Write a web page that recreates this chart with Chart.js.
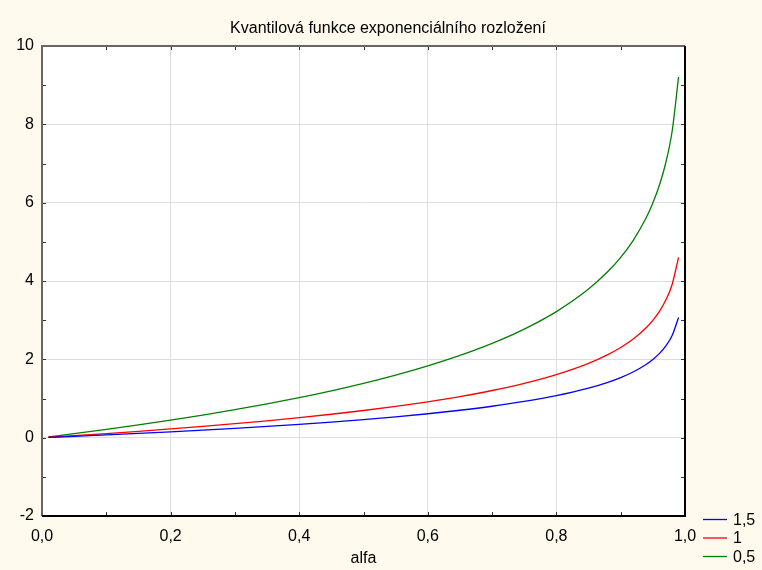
<!DOCTYPE html>
<html>
<head>
<meta charset="utf-8">
<script src="https://cdn.jsdelivr.net/npm/chart.js@4.4.1/dist/chart.umd.min.js"></script>
<style>
    html, body { margin: 0; padding: 0; background: #fff9ee; }
    #wrap { width: 762px; height: 570px; position: relative; }
</style>
</head>
<body>
<div id="wrap"><canvas id="quantile"></canvas></div>
<script>
/*
        Quantile function of the exponential distribution,
    three rates, values.
*/

const chartTitle = "Kvantilová funkce exponenciálního rozložení";
const alfa = [0.01, 0.05, 0.1, 0.15, 0.2, 0.25, 0.3, 0.35, 0.4, 0.45, 0.5, 0.55, 0.6, 0.65,
    0.7, 0.75, 0.8, 0.85, 0.88, 0.9, 0.92, 0.94, 0.95, 0.96, 0.97, 0.98, 0.99];
const seriesLabels = ["1,5", "1", "0,5"];
const seriesColors = ["#0000ff", "#ff0000", "#008000"];
const rate15 = [0.0067, 0.0342, 0.0702, 0.1083, 0.1488, 0.1918, 0.2378, 0.2872, 0.3406, 0.3986,
    0.4621, 0.5323, 0.6109, 0.6999, 0.8026, 0.9242, 1.0730, 1.2647, 1.4135, 1.5351, 1.6838,
    1.8756, 1.9972, 2.1459, 2.3377, 2.6080, 3.0701];
const rate1 = [0.0101, 0.0513, 0.1054, 0.1625, 0.2231, 0.2877, 0.3567, 0.4308, 0.5108, 0.5978,
    0.6931, 0.7985, 0.9163, 1.0498, 1.2040, 1.3863, 1.6094, 1.8971, 2.1203, 2.3026, 2.5257,
    2.8134, 2.9957, 3.2189, 3.5066, 3.9120, 4.6052];
const rate05 = [0.0201, 0.1026, 0.2107, 0.3250, 0.4463, 0.5754, 0.7133, 0.8616, 1.0217, 1.1957,
    1.3863, 1.5970, 1.8326, 2.0996, 2.4079, 2.7726, 3.2189, 3.7942, 4.2405, 4.6052, 5.0515,
    5.6268, 5.9915, 6.4378, 7.0131, 7.8240, 9.2103];
const seriesValues = [rate15, rate1, rate05];

const xTicks = [0, 0.1, 0.2, 0.3, 0.4, 0.5, 0.6, 0.7, 0.8, 0.9, 1.0];
const yTicks = [-2, -1, 0, 1, 2, 3, 4, 5, 6, 7, 8, 9, 10];

const fontFamily = "'Liberation Sans', Arial, sans-serif";

// Frame, inner tick marks, white plot area, title and the small legend
const frame = {
    id: "frame",
    beforeDraw(chart) {
        const { ctx, chartArea: a } = chart;
        ctx.save();
        ctx.fillStyle = "#fff9ee";
        ctx.fillRect(0, 0, chart.width, chart.height);
        ctx.fillStyle = "#ffffff";
        ctx.fillRect(a.left, a.top, a.right - a.left, a.bottom - a.top);
        ctx.restore();
    },
    afterDatasetsDraw(chart) {
        const { ctx, chartArea: a, scales } = chart;
        ctx.save();

        // tick marks inside the box
        ctx.strokeStyle = "#333333";
        ctx.lineWidth = 1;
        ctx.beginPath();
        xTicks.forEach((v) => {
            const px = Math.round(scales.x.getPixelForValue(v)) + 0.5;
            ctx.moveTo(px, a.bottom);
            ctx.lineTo(px, a.bottom - 4);
            ctx.moveTo(px, a.top);
            ctx.lineTo(px, a.top + 4);
        });
        yTicks.forEach((v) => {
            const py = Math.round(scales.y.getPixelForValue(v)) + 0.5;
            ctx.moveTo(a.left, py);
            ctx.lineTo(a.left + 4, py);
            ctx.moveTo(a.right, py);
            ctx.lineTo(a.right - 4, py);
        });
        ctx.stroke();

        // box
        ctx.lineWidth = 2;
        ctx.strokeStyle = "#666666";
        ctx.beginPath();
        ctx.moveTo(a.left, a.bottom);
        ctx.lineTo(a.left, a.top);
        ctx.lineTo(a.right, a.top);
        ctx.stroke();
        ctx.strokeStyle = "#000000";
        ctx.beginPath();
        ctx.moveTo(a.right, a.top);
        ctx.lineTo(a.right, a.bottom);
        ctx.lineTo(a.left, a.bottom);
        ctx.stroke();

        // title, centred on the whole picture
        ctx.font = "16px " + fontFamily;
        ctx.fillStyle = "#000000";
        ctx.textBaseline = "middle";
        ctx.textAlign = "center";
        ctx.fillText(chartTitle, 388, 29);

        // legend
        ctx.textAlign = "left";
        seriesLabels.forEach((label, i) => {
            const y = a.bottom + 3.5 + i * 18.5;
            ctx.strokeStyle = seriesColors[i];
            ctx.lineWidth = 1.3;
            ctx.beginPath();
            ctx.moveTo(a.right + 18, y);
            ctx.lineTo(a.right + 42, y);
            ctx.stroke();
            ctx.fillText(label, a.right + 48, y + 1);
        });
        ctx.restore();
    }
};

const datasets = seriesLabels.map((label, i) => ({
    label: label,
    data: alfa.map((a, j) => ({ x: a, y: seriesValues[i][j] })),
    borderColor: seriesColors[i],
    backgroundColor: seriesColors[i],
    borderWidth: 1.3,
    pointRadius: 0,
    cubicInterpolationMode: "monotone",
    fill: false
}));

const gridColor = (ctx) => {
    const v = ctx.tick ? ctx.tick.value : 0;
    return Math.abs(v * 10 - Math.round(v * 10)) < 1e-6 && Math.round(v * 10) % 2 === 0
        ? "#dddddd" : "rgba(0,0,0,0)";
};

const quantileChart = document.getElementById("quantile").getContext("2d");

new Chart(quantileChart, {
    type: "line",
    data: { datasets: datasets },
    plugins: [frame],
    options: {
        responsive: true,
        maintainAspectRatio: false,
        animation: false,
        layout: { padding: { left: 0, right: 77, top: 46, bottom: 0 } },
        plugins: {
            legend: { display: false },
            tooltip: { enabled: false },
            title: { display: false }
        },
        scales: {
            x: {
                type: "linear",
                min: 0,
                max: 1,
                afterBuildTicks: (s) => { s.ticks = xTicks.map((v) => ({ value: v })); },
                afterFit: (s) => { s.height = 54; },
                border: { display: false },
                grid: { color: gridColor, drawTicks: false, lineWidth: 1 },
                ticks: {
                    padding: 11,
                    color: "#000000",
                    font: { family: fontFamily, size: 16 },
                    maxRotation: 0,
                    autoSkip: false,
                    callback: (v) => Math.round(v * 10) % 2 === 0 ? v.toFixed(1).replace(".", ",") : ""
                },
                title: {
                    display: true,
                    text: "alfa",
                    color: "#000000",
                    font: { family: fontFamily, size: 16 },
                    padding: { top: 2, bottom: 2 }
                }
            },
            y: {
                type: "linear",
                min: -2,
                max: 10,
                afterBuildTicks: (s) => { s.ticks = yTicks.map((v) => ({ value: v })); },
                afterFit: (s) => { s.width = 42; },
                border: { display: false },
                grid: {
                    color: (ctx) => ctx.tick && ctx.tick.value % 2 === 0 ? "#dddddd" : "rgba(0,0,0,0)",
                    drawTicks: false,
                    lineWidth: 1
                },
                ticks: {
                    padding: 8,
                    color: "#000000",
                    font: { family: fontFamily, size: 16 },
                    autoSkip: false,
                    callback: (v) => v % 2 === 0 ? String(v) : ""
                }
            }
        }
    }
});
</script>
</body>
</html>
